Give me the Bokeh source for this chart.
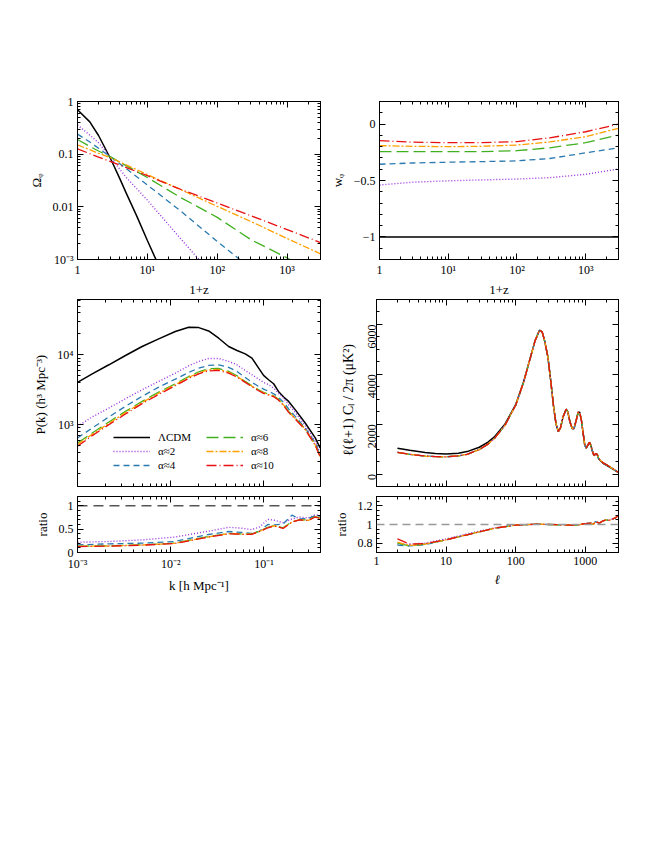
import math
from bokeh.plotting import figure
from bokeh.layouts import column, row
from bokeh.models import (LogAxis, LinearAxis, FixedTicker, CustomJSTickFormatter,
                          Legend, LegendItem, Span, Range1d)
from bokeh.embed import file_html
from bokeh.resources import INLINE

# ---------------- data ----------------
names = ["ΛCDM", "α≈2", "α≈4", "α≈6", "α≈8", "α≈10"]
colors = ["black", "#9b30e0", "#2a7ab0", "#40b020", "#ffa000", "#e81010"]
dashes = ["solid", "1 2", "6 4", "12 5", "7 2 2 2", "10 3 1 3"]
widths = [1.5, 1.4, 1.3, 1.3, 1.3, 1.3]

# Panel 1: Omega_phi vs 1+z
om_z_lcdm = [1, 1.5, 2, 3, 4, 5, 7, 10, 14]
om_lcdm = [0.70, 0.41, 0.226, 0.080, 0.035, 0.018, 0.0068, 0.0023, 0.00085]
om_z_a2 = [1, 1.5, 2, 3, 5, 10, 20, 40, 60]
om_a2 = [0.36, 0.23, 0.165, 0.085, 0.036, 0.0134, 0.0046, 0.0016, 0.00087]
om_z_a4 = [1, 1.5, 2, 3, 5, 10, 30, 100, 300]
om_a4 = [0.24, 0.17, 0.13, 0.088, 0.053, 0.026, 0.0083, 0.0022, 0.00068]
om_z_a6 = [1, 1.5, 2, 3, 10, 30, 100, 300, 1000, 2000]
om_a6 = [0.19, 0.14, 0.115, 0.088, 0.036, 0.015, 0.0063, 0.0024, 0.00107, 0.00063]
om_z_a8 = [1, 2, 3, 10, 27, 100, 300, 1000, 3000]
om_a8 = [0.15, 0.104, 0.085, 0.041, 0.0226, 0.0102, 0.0053, 0.0025, 0.00128]
om_z_a10 = [1, 2, 3, 10, 27, 100, 300, 1000, 3000]
om_a10 = [0.126, 0.088, 0.072, 0.039, 0.0226, 0.0118, 0.0068, 0.0037, 0.0021]

# Panel 2: w_phi vs 1+z
w_z = [1, 3, 10, 30, 100, 300, 1000, 3000]
w_lcdm = [-1, -1, -1, -1, -1, -1, -1, -1]
w_a2 = [-0.54, -0.515, -0.503, -0.495, -0.487, -0.475, -0.445, -0.398]
w_a4 = [-0.356, -0.345, -0.338, -0.333, -0.326, -0.305, -0.255, -0.21]
w_a6 = [-0.244, -0.245, -0.245, -0.244, -0.236, -0.21, -0.165, -0.097]
w_a8 = [-0.191, -0.197, -0.2, -0.197, -0.186, -0.158, -0.112, -0.038]
w_a10 = [-0.147, -0.16, -0.165, -0.164, -0.156, -0.122, -0.068, 0.0]

# Panel 3: P(k)
pk_k = [0.001, 0.00144, 0.00217, 0.00327, 0.00493, 0.00743, 0.0112, 0.0156, 0.020, 0.0255,
        0.0327, 0.0418, 0.0514, 0.063, 0.0743, 0.0877, 0.099, 0.112, 0.127, 0.143, 0.1625,
        0.184, 0.216, 0.277, 0.355, 0.40]
pk_lcdm = [4030, 5350, 7200, 9780, 13150, 16950, 21550, 24850, 24550, 22000, 17300, 13150, 11530,
           10330, 8960, 6450, 5070, 4390, 3850, 2990, 2480, 2150, 1640, 1056, 645, 464]
pk_a2 = [946, 1290, 1730, 2350, 3160, 4160, 5470, 6970, 8040, 8870, 8870, 8040, 7200, 5970, 5180,
         4490, 4030, 3730, 3340, 2830, 2400, 1930, 1500, 968, 578, 394]
pk_a4 = [645, 896, 1290, 1830, 2540, 3450, 4490, 5600, 6450, 7050, 7200, 6600, 5780, 4740, 4030,
         3530, 3230, 2990, 2770, 2480, 2080, 1680, 1315, 896, 547, 369]
pk_a6 = [547, 760, 1090, 1550, 2150, 2930, 3850, 4900, 5720, 6310, 6380, 5780, 5010, 4160, 3610,
         3160, 2900, 2740, 2600, 2330, 1930, 1550, 1245, 867, 518, 353]
pk_a8 = [518, 728, 1045, 1485, 2075, 2820, 3730, 4740, 5530, 6100, 6170, 5620, 4900, 4095, 3550,
         3110, 2850, 2695, 2555, 2290, 1900, 1525, 1225, 858, 512, 349]
pk_a10 = [490, 697, 1000, 1420, 2000, 2710, 3610, 4590, 5350, 5900, 5970, 5470, 4800, 4030, 3490,
          3060, 2800, 2650, 2510, 2250, 1870, 1500, 1205, 849, 507, 345]

# Panel 5: P(k) ratio
pr_k = [0.001, 0.0022, 0.0049, 0.011, 0.0255, 0.042, 0.058, 0.074, 0.09, 0.11, 0.13, 0.16, 0.2, 0.24, 0.30, 0.354, 0.40]
pr_a2 = [0.22, 0.236, 0.27, 0.33, 0.457, 0.54, 0.52, 0.49, 0.55, 0.71, 0.69, 0.64, 0.72, 0.76, 0.74, 0.81, 0.79]
pr_a4 = [0.164, 0.186, 0.2, 0.236, 0.386, 0.45, 0.43, 0.41, 0.46, 0.60, 0.59, 0.61, 0.80, 0.72, 0.73, 0.79, 0.76]
pr_a6 = [0.136, 0.143, 0.164, 0.2, 0.343, 0.41, 0.40, 0.40, 0.46, 0.54, 0.58, 0.53, 0.66, 0.70, 0.70, 0.77, 0.74]
pr_a8 = [0.132, 0.14, 0.16, 0.196, 0.336, 0.405, 0.395, 0.395, 0.455, 0.535, 0.575, 0.52, 0.655, 0.70, 0.69, 0.765, 0.735]
pr_a10 = [0.128, 0.137, 0.157, 0.192, 0.33, 0.40, 0.39, 0.39, 0.45, 0.53, 0.57, 0.515, 0.65, 0.70, 0.685, 0.76, 0.73]

# Panel 4: CMB C_l
cl_l = [2, 3, 5, 7, 10, 15, 20, 30, 40, 50, 70, 100, 130, 160, 190, 220, 240, 260, 290, 320,
        350, 380, 410, 440, 480, 530, 560, 600, 650, 690, 740, 790, 830, 880, 930, 980, 1030,
        1100, 1150, 1200, 1270, 1330, 1420, 1480, 1550, 1650, 1800, 2000, 2300, 2600, 3000]
cl_lcdm = [1033, 950, 860, 820, 805, 830, 900, 1074, 1280, 1503, 2000, 2780, 3700, 4600, 5350, 5770,
           5700, 5350, 4700, 3700, 2710, 2000, 1705, 1850, 2300, 2600, 2500, 2107, 1820, 1830, 2150,
           2480, 2480, 2150, 1650, 1180, 1040, 1180, 1260, 1150, 900, 740, 800, 780, 620, 530, 430,
           362, 260, 170, 54]
cl_alpha = [870, 790, 720, 700, 690, 730, 790, 980, 1200, 1440, 1950, 2760, 3690, 4600, 5350, 5770,
            5700, 5350, 4700, 3700, 2710, 2000, 1705, 1850, 2300, 2600, 2500, 2107, 1820, 1830, 2150,
            2480, 2480, 2150, 1650, 1180, 1045, 1190, 1275, 1165, 910, 755, 820, 800, 640, 550, 450,
            380, 275, 182, 60]

# Panel 6: C_l ratio
cr_l = [2, 3, 5, 10, 20, 50, 100, 200, 500, 700, 1000, 1200, 1300, 1400, 1600, 1800, 2000, 2200, 2500, 2700, 3000]
cr_a2 = [0.79, 0.79, 0.80, 0.846, 0.90, 0.965, 0.995, 1.003, 0.996, 0.99, 1.01, 1.015, 1.0, 1.03, 1.015, 1.04, 1.05, 1.045, 1.06, 1.07, 1.1]
cr_a4 = [0.78, 0.77, 0.785, 0.835, 0.89, 0.96, 0.993, 1.003, 0.996, 0.99, 1.01, 1.015, 1.0, 1.03, 1.015, 1.04, 1.05, 1.045, 1.06, 1.07, 1.1]
cr_a6 = [0.80, 0.77, 0.79, 0.836, 0.89, 0.96, 0.993, 1.003, 0.996, 0.99, 1.01, 1.015, 1.0, 1.03, 1.015, 1.04, 1.05, 1.045, 1.06, 1.07, 1.1]
cr_a8 = [0.81, 0.775, 0.79, 0.836, 0.89, 0.96, 0.993, 1.003, 0.996, 0.99, 1.01, 1.015, 1.0, 1.03, 1.015, 1.04, 1.05, 1.045, 1.06, 1.07, 1.1]
cr_a10 = [0.846, 0.79, 0.795, 0.836, 0.89, 0.96, 0.993, 1.003, 0.996, 0.99, 1.01, 1.015, 1.0, 1.03, 1.015, 1.04, 1.05, 1.045, 1.06, 1.07, 1.1]

ratio_ref = 1.0

# tick labels
t_z_vals = [1, 10, 100, 1000]
t_z_labs = ["1", "10¹", "10²", "10³"]
t_om_vals = [1, 0.1, 0.01, 0.001]
t_om_labs = ["1", "0.1", "0.01", "10⁻³"]
t_w_vals = [0, -0.5, -1]
t_w_labs = ["0", "−0.5", "−1"]
t_k_vals = [0.001, 0.01, 0.1]
t_k_labs = ["10⁻³", "10⁻²", "10⁻¹"]
t_pk_vals = [1000, 10000]
t_pk_labs = ["10³", "10⁴"]
t_rl_vals = [0, 0.5, 1]
t_rl_labs = ["0", "0.5", "1"]
t_l_vals = [1, 10, 100, 1000]
t_l_labs = ["1", "10", "100", "1000"]
t_cl_vals = [0, 2000, 4000, 6000]
t_cl_labs = ["0", "2000", "4000", "6000"]
t_rr_vals = [0.8, 1, 1.2]
t_rr_labs = ["0.8", "1", "1.2"]

FONT = "Liberation Serif"
FS = "12px"
LFS = "13px"


def log_minors(e0, e1):
    out = []
    for e in range(e0, e1 + 1):
        for m in range(2, 10):
            out.append(m * 10.0 ** e)
    return out


def lin_ticks(a, b, step):
    n = int(round((b - a) / step))
    return [round(a + i * step, 6) for i in range(n + 1)]


def fmt(vals, labs):
    return CustomJSTickFormatter(args=dict(vals=vals, labs=labs), code="""
        for (let i = 0; i < vals.length; i++) {
            if (Math.abs(tick - vals[i]) <= 1e-6 * Math.abs(vals[i]) + 1e-9) return labs[i];
        }
        return '';
    """)


def blank():
    return CustomJSTickFormatter(code="return '';")


def make_fig(w, h, bl, br, bt, bb, xlog, ylog, xr, yr):
    p = figure(width=w, height=h, x_axis_type="log" if xlog else "linear",
               y_axis_type="log" if ylog else "linear",
               x_range=Range1d(*xr), y_range=Range1d(*yr),
               toolbar_location=None, output_backend="svg",
               min_border_left=bl, min_border_right=br, min_border_top=bt, min_border_bottom=bb)
    p.grid.visible = False
    p.outline_line_color = "black"
    p.outline_line_width = 1
    p.background_fill_color = "white"
    p.border_fill_color = "white"
    return p


def style_axis(ax, ticker, formatter, label=None, hide=False, orient=None, italic=False,
               lstand=4, astand=4, lfs=LFS):
    ax.ticker = ticker
    ax.formatter = formatter
    ax.major_tick_in = 6
    ax.major_tick_out = 0
    ax.minor_tick_in = 3
    ax.minor_tick_out = 0
    ax.axis_line_color = "black"
    ax.major_tick_line_color = "black"
    ax.minor_tick_line_color = "black"
    ax.major_label_text_font = FONT
    ax.major_label_text_font_size = "0px" if hide else FS
    ax.major_label_text_color = "black"
    ax.axis_label_text_font = FONT
    ax.axis_label_text_font_size = lfs
    ax.axis_label_text_color = "black"
    ax.axis_label_text_font_style = "italic" if italic else "normal"
    ax.major_label_standoff = 0 if hide else lstand
    ax.axis_label_standoff = astand
    if label is not None:
        ax.axis_label = label
    if orient is not None:
        ax.major_label_orientation = orient


def setup(p, xlog, ylog, xmaj, xmin, ymaj, ymin, xfmt, yfmt, xlabel=None, ylabel=None,
          show_x=True, yorient=None, xitalic=False, xl=4, xa=4, ylfs=LFS):
    xt = FixedTicker(ticks=xmaj, minor_ticks=xmin)
    yt = FixedTicker(ticks=ymaj, minor_ticks=ymin)
    style_axis(p.xaxis[0], xt, xfmt if show_x else blank(), xlabel if show_x else None,
               hide=not show_x, italic=xitalic, lstand=xl, astand=xa)
    style_axis(p.yaxis[0], yt, yfmt, ylabel, orient=yorient, lstand=4, astand=6, lfs=ylfs)
    XA = LogAxis if xlog else LinearAxis
    YA = LogAxis if ylog else LinearAxis
    top = XA()
    style_axis(top, FixedTicker(ticks=xmaj, minor_ticks=xmin), blank(), hide=True, astand=0)
    p.add_layout(top, "above")
    right = YA()
    style_axis(right, FixedTicker(ticks=ymaj, minor_ticks=ymin), blank(), hide=True, astand=0)
    p.add_layout(right, "right")


def draw(p, xs_list, ys_list, order=range(6)):
    rs = []
    for i in order:
        r = p.line(xs_list[i], ys_list[i], line_color=colors[i], line_dash=dashes[i],
                   line_width=widths[i])
        rs.append(r)
    return rs


# ---------------- panel 1 ----------------
p1 = make_fig(326, 299, 77, 6, 101, 39, True, True, (1, 3000), (0.001, 1))
setup(p1, True, True, t_z_vals, log_minors(0, 3), t_om_vals, log_minors(-3, -1),
      fmt(t_z_vals, t_z_labs), fmt(t_om_vals, t_om_labs), "1+z", "Ωᵩ", xl=3, xa=2)
draw(p1, [om_z_lcdm, om_z_a2, om_z_a4, om_z_a6, om_z_a8, om_z_a10],
     [om_lcdm, om_a2, om_a4, om_a6, om_a8, om_a10])

# ---------------- panel 2 ----------------
p2 = make_fig(300, 299, 50, 8, 101, 39, True, False, (1, 3000), (-1.2, 0.2))
setup(p2, True, False, t_z_vals, log_minors(0, 3), t_w_vals, lin_ticks(-1.2, 0.2, 0.1),
      fmt(t_z_vals, t_z_labs), fmt(t_w_vals, t_w_labs), "1+z", "wᵩ", xl=3, xa=2)
draw(p2, [w_z] * 6, [w_lcdm, w_a2, w_a4, w_a6, w_a8, w_a10])

# ---------------- panel 3 ----------------
p3 = make_fig(326, 192, 77, 6, 0, 5, True, True, (0.001, 0.404), (130, 62000))
setup(p3, True, True, t_k_vals, log_minors(-3, -1), t_pk_vals, log_minors(2, 4),
      fmt(t_k_vals, t_k_labs), fmt(t_pk_vals, t_pk_labs), None,
      "P(k)  (h³ Mpc⁻³)", show_x=False)
rs = draw(p3, [pk_k] * 6, [pk_lcdm, pk_a2, pk_a4, pk_a6, pk_a8, pk_a10])
for cols, xoff in (([0, 1, 2], 36), ([3, 4, 5], 129)):
    leg = Legend(items=[LegendItem(label=names[i], renderers=[rs[i]]) for i in cols],
                 location=(xoff, 14), orientation="vertical")
    leg.label_text_font = FONT
    leg.label_text_font_size = "11px"
    leg.label_text_color = "black"
    leg.glyph_width = 37
    leg.glyph_height = 14
    leg.label_height = 14
    leg.label_standoff = 8
    leg.spacing = 0
    leg.padding = 0
    leg.margin = 0
    leg.background_fill_alpha = 0
    leg.border_line_alpha = 0
    p3.add_layout(leg)

# ---------------- panel 4 ----------------
p4 = make_fig(300, 192, 50, 8, 0, 5, True, False, (1, 3000), (-500, 7000))
setup(p4, True, False, t_l_vals, log_minors(0, 3), t_cl_vals, lin_ticks(-500, 7000, 500),
      fmt(t_l_vals, t_l_labs), fmt(t_cl_vals, t_cl_labs), None,
      "ℓ(ℓ+1)  Cₗ  /  2π  (μK²)", show_x=False, yorient=math.pi / 2, ylfs="14px")
draw(p4, [cl_l] * 6, [cl_lcdm, cl_alpha, cl_alpha, cl_alpha, cl_alpha, cl_alpha])

# ---------------- panel 5 ----------------
p5 = make_fig(326, 106, 77, 6, 5, 45, True, False, (0.001, 0.404), (0, 1.2))
setup(p5, True, False, t_k_vals, log_minors(-3, -1), t_rl_vals, lin_ticks(0, 1.2, 0.1),
      fmt(t_k_vals, t_k_labs), fmt(t_rl_vals, t_rl_labs), "k [h Mpc⁻¹]", "ratio")
p5.add_layout(Span(location=ratio_ref, dimension="width", line_color="black",
                   line_dash="10 6", line_width=1))
draw(p5, [pr_k] * 6, [None, pr_a2, pr_a4, pr_a6, pr_a8, pr_a10], order=range(1, 6))

# ---------------- panel 6 ----------------
p6 = make_fig(300, 106, 50, 8, 5, 45, True, False, (1, 3000), (0.7, 1.3))
setup(p6, True, False, t_l_vals, log_minors(0, 3), t_rr_vals, lin_ticks(0.7, 1.3, 0.05),
      fmt(t_l_vals, t_l_labs), fmt(t_rr_vals, t_rr_labs), "ℓ", "ratio", xitalic=True)
p6.add_layout(Span(location=ratio_ref, dimension="width", line_color="#999999",
                   line_dash="8 5", line_width=1.5))
draw(p6, [cr_l] * 6, [None, cr_a2, cr_a4, cr_a6, cr_a8, cr_a10], order=range(1, 6))

layout = column(row(p1, p2), row(p3, p4), row(p5, p6))
open("out.html", "w").write(file_html(layout, INLINE))
